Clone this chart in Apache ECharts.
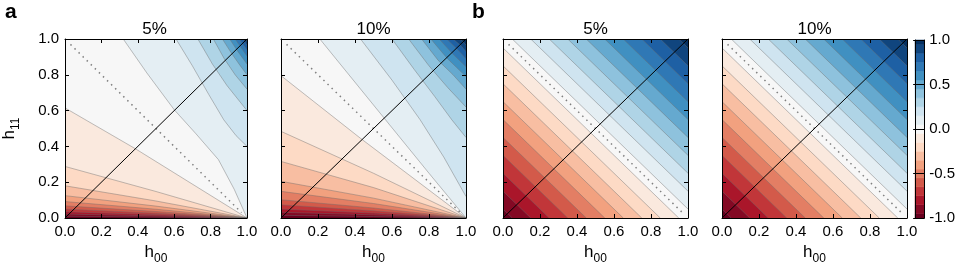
<!DOCTYPE html>
<html><head><meta charset="utf-8">
<script src="https://cdn.jsdelivr.net/npm/echarts@6/dist/echarts.min.js"></script>
<style>html,body{margin:0;padding:0;background:#fff}#c{width:958px;height:273px}</style>
</head><body><div id="c"></div>
<script>
// ---------------- data ----------------
// contour levels (the 0 value falls inside the central white band, on the dotted line)
const levels = [-0.95,-0.85,-0.75,-0.65,-0.55,-0.45,-0.35,-0.25,-0.15,-0.05,0.05,0.15,0.25,0.35,0.45,0.55,0.65,0.75,0.85,0.95];
const cbEdges = [-1,-0.95,-0.85,-0.75,-0.65,-0.55,-0.45,-0.35,-0.25,-0.15,-0.05,0.05,0.15,0.25,0.35,0.45,0.55,0.65,0.75,0.85,0.95,1];
const panelTitles = ['5%','10%','5%','10%'];
const xTickLabels = ['0.0','0.2','0.4','0.6','0.8','1.0'];
const cbTickLabels = ['-1.0','-0.5','0.0','0.5','1.0'];

// panel a, 5%: contour line points (h00, h11), one line per level
const a05 = [
 [[0,0.010],[0.5,0.0053],[1,0]],
 [[0,0.022],[0.5,0.0118],[1,0]],
 [[0,0.035],[0.5,0.0187],[1,0]],
 [[0,0.050],[0.5,0.0267],[1,0]],
 [[0,0.068],[0.5,0.0363],[1,0]],
 [[0,0.092],[0.5,0.049],[1,0]],
 [[0,0.125],[0.5,0.0665],[1,0]],
 [[0,0.18],[0.5,0.095],[1,0]],
 [[0,0.288],[0.5,0.148],[1,0]],
 [[0,0.615],[0.385,0.388],[1,0]],
 [[0.32,1],[0.45,0.81],[0.6,0.605],[0.72,0.47],[0.843,0.326],[0.93,0.16],[1,0]],
 [[0.61,1],[0.7,0.85],[0.79,0.69],[0.872,0.549],[0.94,0.46],[1,0.40]],
 [[0.73,1],[0.81,0.86],[0.89,0.74],[1,0.60]],
 [[0.815,1],[0.875,0.89],[0.935,0.80],[1,0.72]],
 [[0.865,1],[0.915,0.92],[0.96,0.855],[1,0.80]],
 [[0.905,1],[0.95,0.93],[1,0.86]],
 [[0.935,1],[0.965,0.955],[1,0.905]],
 [[0.958,1],[0.978,0.97],[1,0.94]],
 [[0.976,1],[0.988,0.985],[1,0.965]],
 [[0.99,1],[1,0.985]]
];
// panel a, 10%
const a10 = [
 [[0,0.015],[0.5,0.0082],[1,0]],
 [[0,0.032],[0.5,0.0175],[1,0]],
 [[0,0.050],[0.5,0.0275],[1,0]],
 [[0,0.074],[0.5,0.0405],[1,0]],
 [[0,0.102],[0.5,0.056],[1,0]],
 [[0,0.149],[0.5,0.081],[1,0]],
 [[0,0.205],[0.5,0.111],[1,0]],
 [[0,0.316],[0.5,0.17],[1,0]],
 [[0,0.484],[0.5,0.25],[1,0]],
 [[0,0.795],[0.43,0.445],[1,0]],
 [[0.21,1],[0.56,0.555],[0.8,0.25],[1,0]],
 [[0.43,1],[0.6,0.77],[0.752,0.549],[0.88,0.34],[1,0.12]],
 [[0.6,1],[0.72,0.83],[0.83,0.68],[0.923,0.549],[1,0.45]],
 [[0.69,1],[0.8,0.85],[0.9,0.73],[1,0.62]],
 [[0.76,1],[0.85,0.88],[0.93,0.80],[1,0.72]],
 [[0.81,1],[0.9,0.89],[1,0.79]],
 [[0.855,1],[0.93,0.915],[1,0.845]],
 [[0.895,1],[0.95,0.945],[1,0.89]],
 [[0.93,1],[0.97,0.965],[1,0.93]],
 [[0.965,1],[0.985,0.985],[1,0.965]]
];
// panel b: contour lines are h00 + h11 = sum
const b05Sums = [0.05,0.15,0.25,0.35,0.45,0.55,0.65,0.75,0.85,0.95,1.05,1.15,1.25,1.35,1.45,1.55,1.65,1.75,1.85,1.95];
const b10Sums = [0.05,0.15,0.25,0.35,0.45,0.55,0.65,0.75,0.85,0.95,1.05,1.15,1.25,1.35,1.45,1.55,1.65,1.75,1.85,1.95];
const diagLine = [[0,0],[1,1]];
const antiDiag = [[0.03,0.97],[0.97,0.03]];

// ---------------- helpers ----------------
const FONT = '"Liberation Sans", Arial, sans-serif';
const rdbu = ['#67001f','#b2182b','#d6604d','#f4a582','#fddbc7','#f7f7f7','#d1e5f0','#92c5de','#4393c3','#2166ac','#053061'];
function hex(h){return [1,3,5].map(i=>parseInt(h.substr(i,2),16));}
function cmap(t){
  const x=Math.max(0,Math.min(1,t))*10, i=Math.min(9,Math.floor(x)), f=x-i;
  const a=hex(rdbu[i]), b=hex(rdbu[i+1]);
  return 'rgb('+a.map((v,k)=>Math.round(v+(b[k]-v)*f)).join(',')+')';
}
const mids = cbEdges.slice(0,-1).map((e,i)=>(e+cbEdges[i+1])/2);
const mMin = mids[0], mMax = mids[mids.length-1];
function bandColor(k){return cmap((mids[k]-mMin)/(mMax-mMin));} // k = 0..20
function sumLine(s){return s<=1?[[0,s],[s,0]]:[[s-1,1],[1,s-1]];}
function perim(p){
  const e=1e-6,x=p[0],y=p[1];
  if(y<e && x<1-e) return x;
  if(x>1-e) return 1+y;
  if(y>1-e) return 2+(1-x);
  return 3+(1-y);
}
const corners=[[0,0],[1,0],[1,1],[0,1]];
function closeRegion(line){
  const pe=perim(line[line.length-1]); let ps=perim(line[0]); if(ps<=pe) ps+=4;
  const pts=line.slice();
  for(let c=1;c<8;c++){ if(c>pe+1e-9 && c<ps-1e-9) pts.push(corners[c%4]); }
  return pts;
}
const tickFmt = v => xTickLabels[Math.round(v*5)];
const cbFmt = v => cbTickLabels[Math.round((v+1)*2)];

const panels = [
  {left:62, lines:a05},
  {left:281, lines:a10},
  {left:503, lines:b05Sums.map(sumLine)},
  {left:722, lines:b10Sums.map(sumLine)}
];
const TOP=39, H=179, W=185;

const grid=[], xAxis=[], yAxis=[], series=[], title=[];
const axisBase = {type:'value', min:0, max:1, interval:0.2, z:10,
  axisLine:{show:true, onZero:false, lineStyle:{color:'#000', width:1}},
  axisTick:{show:true, inside:true, length:4, lineStyle:{color:'#000', width:1}},
  splitLine:{show:false}};
const nameRich = {h:{fontSize:17, lineHeight:21, verticalAlign:'top', fontFamily:FONT, color:'#000'},
                  s:{fontSize:12, lineHeight:12, verticalAlign:'bottom', fontFamily:FONT, color:'#000'}};

panels.forEach((p,gi)=>{
  grid.push({left:p.left, top:TOP, width:W, height:H});
  xAxis.push(Object.assign({}, axisBase, {gridIndex:gi, position:'bottom',
    axisLabel:{show:true, fontSize:15, color:'#000', margin:6, fontFamily:FONT, formatter:tickFmt},
    name:'{h|h}{s|00}', nameLocation:'middle', nameGap:23, nameTextStyle:{rich:nameRich}}));
  xAxis.push(Object.assign({}, axisBase, {gridIndex:gi, position:'top', axisLabel:{show:false}}));
  const yl = Object.assign({}, axisBase, {gridIndex:gi, position:'left',
    axisLabel:{show:gi===0, fontSize:15, color:'#000', margin:6, fontFamily:FONT, formatter:tickFmt}});
  if(gi===0){ Object.assign(yl,{name:'{h|h}{s|11}', nameLocation:'middle', nameGap:43, nameRotate:90, nameTextStyle:{rich:nameRich}}); }
  yAxis.push(yl);
  yAxis.push(Object.assign({}, axisBase, {gridIndex:gi, position:'right', axisLabel:{show:false}}));

  const polys = [[[0,0],[1,0],[1,1],[0,1]]].concat(p.lines.map(closeRegion));
  series.push({type:'custom', xAxisIndex:2*gi, yAxisIndex:2*gi, silent:true, z:1, animation:false, clip:true,
    data: polys.map((q,i)=>[i,0]),
    renderItem:(params, api)=>{
      const i=params.dataIndex, c=bandColor(i);
      return {type:'polygon', shape:{points:polys[i].map(q=>api.coord(q))}, style:{fill:c, stroke:null, lineWidth:0}};
    }});
  series.push({type:'custom', xAxisIndex:2*gi, yAxisIndex:2*gi, silent:true, z:2, animation:false, clip:true,
    data: p.lines.map((q,i)=>[i,0]),
    renderItem:(params, api)=>({type:'polyline', shape:{points:p.lines[params.dataIndex].map(q=>api.coord(q))},
      style:{fill:'none', stroke:'rgba(110,110,110,0.55)', lineWidth:0.8}})});
  series.push({type:'line', xAxisIndex:2*gi, yAxisIndex:2*gi, data:antiDiag, symbol:'none', silent:true, z:3, animation:false,
    lineStyle:{color:'#808080', width:1.5, type:[1.5,4.2]}});
  series.push({type:'line', xAxisIndex:2*gi, yAxisIndex:2*gi, data:diagLine, symbol:'none', silent:true, z:4, animation:false,
    lineStyle:{color:'#000', width:1}});
  title.push({text:panelTitles[gi], left:p.left+W/2, top:21, textAlign:'center', padding:0,
    textStyle:{fontSize:17, fontWeight:'normal', color:'#000', fontFamily:FONT}});
});
title.push({text:'a', left:5, top:2, padding:0, textStyle:{fontSize:21, fontWeight:'bold', color:'#000', fontFamily:FONT}});
title.push({text:'b', left:472, top:2, padding:0, textStyle:{fontSize:21, fontWeight:'bold', color:'#000', fontFamily:FONT}});

// colorbar
grid.push({left:915, top:40, width:11, height:178});
const cbX = {type:'value', min:0, max:1, gridIndex:4, z:10, axisLine:{show:true, onZero:false, lineStyle:{color:'#000'}},
  axisTick:{show:false}, axisLabel:{show:false}, splitLine:{show:false}};
xAxis.push(Object.assign({}, cbX, {position:'bottom'}));
xAxis.push(Object.assign({}, cbX, {position:'top'}));
yAxis.push({type:'value', min:-1, max:1, interval:0.5, gridIndex:4, position:'right', z:10,
  axisLine:{show:true, onZero:false, lineStyle:{color:'#000'}},
  axisTick:{show:true, inside:true, length:11, lineStyle:{color:'#000'}},
  axisLabel:{show:true, fontSize:15, color:'#000', margin:5, fontFamily:FONT, formatter:cbFmt},
  splitLine:{show:false}});
yAxis.push({type:'value', min:-1, max:1, interval:0.5, gridIndex:4, position:'left', z:10,
  axisLine:{show:true, onZero:false, lineStyle:{color:'#000'}}, axisTick:{show:false}, axisLabel:{show:false}, splitLine:{show:false}});
series.push({type:'custom', xAxisIndex:8, yAxisIndex:8, silent:true, z:1, animation:false,
  data: cbEdges.slice(0,-1).map((e,i)=>[i,0]),
  renderItem:(params, api)=>{
    const i=params.dataIndex, c=bandColor(i);
    const p0=api.coord([0,cbEdges[i]]), p1=api.coord([1,cbEdges[i+1]]);
    return {type:'rect', shape:{x:p0[0], y:p1[1], width:p1[0]-p0[0], height:p0[1]-p1[1]}, style:{fill:c, stroke:c, lineWidth:0.5}};
  }});

const chart = echarts.init(document.getElementById('c'), null, {renderer:'canvas'});
chart.setOption({animation:false, backgroundColor:'#fff', title, grid, xAxis, yAxis, series});
</script></body></html>
